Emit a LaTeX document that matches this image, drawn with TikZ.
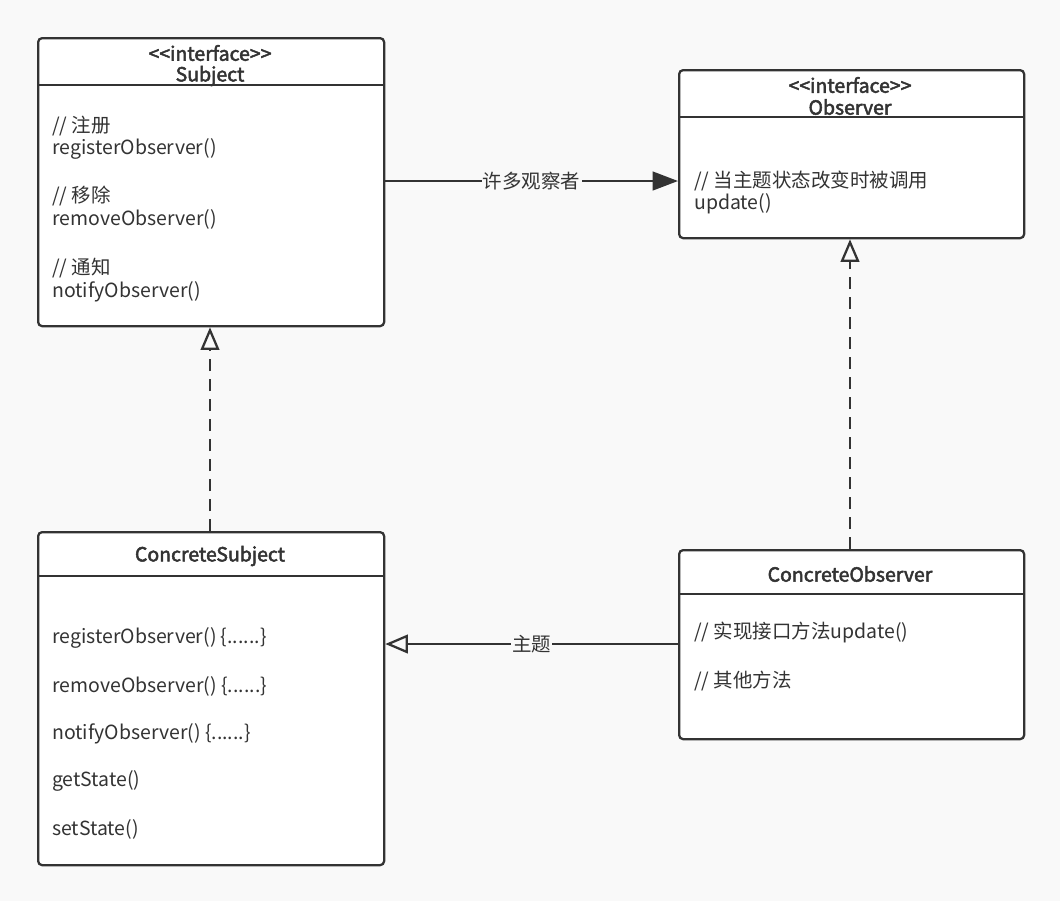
\documentclass[tikz,border=0pt]{standalone}
\usepackage{fontspec}
\setmainfont{Noto Sans CJK SC}
\newfontfamily\semib[FakeBold=2.5]{Noto Sans CJK SC}
\usetikzlibrary{arrows.meta}
\definecolor{bg}{HTML}{F9F9F9}
\definecolor{ink}{HTML}{333333}
\newcommand{\stereo}[1]{{<}{<}#1{>}{>}}
\begin{document}
\begin{tikzpicture}[x=0.75pt,y=-0.75pt,
  box/.style={draw=ink, fill=white, line width=1.7pt, rounded corners=3pt, anchor=north west, inner sep=0pt},
  sep/.style={draw=ink, line width=1.7pt},
  txt/.style={anchor=west, inner sep=0pt, font=\fontsize{14.6}{16}\selectfont, text=ink},
  ttl/.style={anchor=center, inner sep=0pt, font=\fontsize{14.6}{16}\selectfont\semib, text=ink, align=center},
  conn/.style={draw=ink, line width=1.7pt},
  lbl/.style={fill=bg, inner sep=1pt, font=\fontsize{14.6}{16}\selectfont, text=ink},
  realize/.style={conn, dashed, dash pattern=on 9pt off 6pt, -{Triangle[open, length=17pt, width=14pt, line width=1.7pt]}},
  assoc/.style={conn, -{Triangle[length=19pt, width=14pt]}},
  assocopen/.style={conn, -{Triangle[open, length=17pt, width=14pt, line width=1.7pt]}}
]
\fill[bg] (0,0) rectangle (1060,901);
\useasboundingbox (0,0) rectangle (1060,901);

% Subject
\node[box, minimum width=259.5pt, minimum height=216pt] (subj) at (37,37) {};
\draw[sep] (37,85) -- (383,85);
\node[ttl] (subjs) at (210,53) {\stereo{interface}};
\node[ttl] (subjt) at (210,76) {Subject};
\node[txt] (s1) at (52,126) {// 注册};
\node[txt] (s2) at (52,149) {registerObserver()};
\node[txt] (s3) at (52,196) {// 移除};
\node[txt] (s4) at (52,219) {removeObserver()};
\node[txt] (s5) at (52,268) {// 通知};
\node[txt] (s6) at (52,292) {notifyObserver()};

% Observer
\node[box, minimum width=258.75pt, minimum height=126pt] (obs) at (678,69) {};
\draw[sep] (678,117) -- (1023,117);
\node[ttl] (obss) at (850,85) {\stereo{interface}};
\node[ttl] (obst) at (850,107) {Observer};
\node[txt] (o1) at (694,181) {// 当主题状态改变时被调用};
\node[txt] (o2) at (694,204) {update()};

% ConcreteSubject
\node[box, minimum width=259.5pt, minimum height=249.75pt] (csubj) at (37,531) {};
\draw[sep] (37,576) -- (383,576);
\node[ttl] (csubjt) at (210,556) {ConcreteSubject};
\node[txt] (c1) at (52,638) {registerObserver() \{......\}};
\node[txt] (c2) at (52,686) {removeObserver() \{......\}};
\node[txt] (c3) at (52,734) {notifyObserver() \{......\}};
\node[txt] (c4) at (52,781) {getState()};
\node[txt] (c5) at (52,829) {setState()};

% ConcreteObserver
\node[box, minimum width=258.75pt, minimum height=141.75pt] (cobs) at (678,549) {};
\draw[sep] (678,594) -- (1023,594);
\node[ttl] (cobst) at (850,574) {ConcreteObserver};
\node[txt] (k1) at (694,632) {// 实现接口方法update()};
\node[txt] (k2) at (694,681) {// 其他方法};

% connectors
\draw[assoc] (subj.east |- 0,181) -- node[lbl] {许多观察者} (obs.west |- 0,181);
\draw[realize] (csubj.north -| 210,0) -- (subj.south -| 210,0);
\draw[realize] (cobs.north -| 850,0) -- (obs.south -| 850,0);
\draw[assocopen] (cobs.west |- 0,644) -- node[lbl] {主题} (csubj.east |- 0,644);
\end{tikzpicture}
\end{document}
